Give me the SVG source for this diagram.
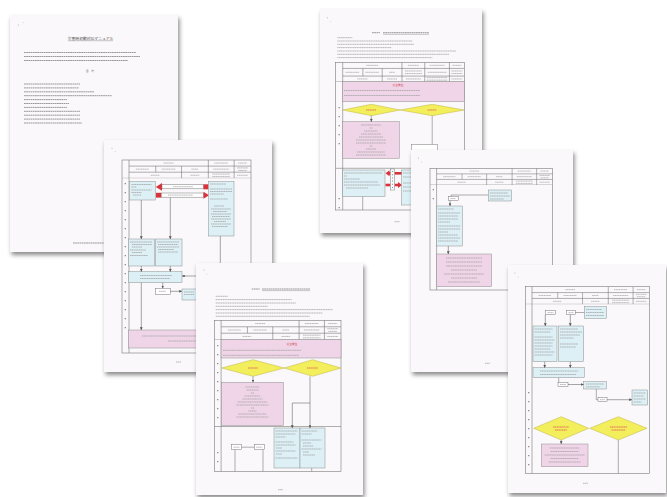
<svg xmlns="http://www.w3.org/2000/svg" width="667" height="497" viewBox="0 0 667 497">
<style>
.pg{fill:#faf8fa;filter:url(#sh)}
.ln{fill:none;stroke:#707070;stroke-width:0.55}
.ar{fill:none;stroke:#606060;stroke-width:0.55;marker-end:url(#ah)}
.tb{fill:none;stroke:#a2a2a2;stroke-width:0.75;stroke-dasharray:1.4 0.35}
.t1{fill:none;stroke:#8f8f8f;stroke-width:0.9;stroke-dasharray:1.8 0.4}
.hb{fill:none;stroke:#a5a5a5;stroke-width:0.75;stroke-dasharray:1.4 0.35}
.rt{fill:none;stroke:#e0565a;stroke-width:0.8;stroke-dasharray:1.4 0.35}
.mk{fill:none;stroke:#8a8a8a;stroke-width:1.3;stroke-dasharray:1.2 7.8}
.pk{fill:#f0d5e8;stroke:#8e8e8e;stroke-width:0.5}
.bl{fill:#ddf0f6;stroke:#8e8e8e;stroke-width:0.5}
.yw{fill:#f3ee5c;stroke:#bdb444;stroke-width:0.5}
.sb{fill:#ffffff;stroke:#777;stroke-width:0.5}
.rd{fill:#d8323c}
.sp{fill:#a8a8a8}
.jp{font-family:"Noto Sans CJK JP","Noto Sans",sans-serif}
</style>
<defs>
<filter id="sh" x="-6%" y="-6%" width="116%" height="116%">
<feDropShadow dx="1.5" dy="3" stdDeviation="2" flood-color="#000" flood-opacity="0.45"/>
</filter>
<marker id="ah" viewBox="0 0 10 10" refX="10" refY="5" markerWidth="5" markerHeight="5" orient="auto">
<path d="M0 0L10 5L0 10z" fill="#555"/>
</marker>
<symbol id="hA" viewBox="0 0 130 18" preserveAspectRatio="none">
<path class="ln" d="M7 6H130M7 12H130M0 18H130M87 0V18M113 0V18M34 6V12M60 6V18"/>
<path class="hb" d="M42 3h10M93 3h14M117 3h9M14 9h13M40 9h14M70 9h7M92 9h16M116 7.8h11M117 10.3h9M29 15h9M69 15h9M91 13.8h18M91 16.3h18M116 15h11"/>
</symbol>
<symbol id="hB" viewBox="0 0 130 19" preserveAspectRatio="none">
<path class="ln" d="M7 6H130M7 13.5H130M0 19H130M67 0V19M90 0V19M115 0V19M27.5 6V13.5M47 6V19"/>
<path class="hb" d="M31 3h12M73 3h11M95 3h15M118 3h9M10 9.8h14M30 9.8h14M54 9.8h6M70 8.5h17M70 11h17M93 9.8h19M117 8.5h11M117 11h11M22 16.3h10M52 16.3h10M71 16.3h15M92 15h21M92 17.5h21M117 16.3h11"/>
</symbol>
</defs>
<rect width="667" height="497" fill="#ffffff"/>

<!-- Page 1: cover -->
<g id="page1">
<rect class="pg" x="10" y="15" width="168" height="237"/>
<circle class="sp" cx="18.3" cy="25" r="0.5"/><circle class="sp" cx="23.3" cy="22.7" r="0.4"/>
<text class="jp" x="90.5" y="39.5" font-size="3.8" fill="#555" text-anchor="middle">災害時初動対応マニュアル</text>
<path d="M68 40.7h45" stroke="#777" stroke-width="0.4"/>
<path class="t1" d="M24 52.5h112M24 56.5h116M24 60.5h104"/>
<text class="jp" x="90" y="72.3" font-size="2.6" fill="#555" text-anchor="middle">目　次</text>
<path class="t1" d="M24 84h56M24 87.9h55M24 91.8h70M24 95.7h88M24 99.6h43M24 103.5h45M24 107.4h43M24 111.3h56M24 115.2h56M24 119.1h56M24 123h58M73 243h31"/>
</g>

<!-- Page 2 -->
<g id="page2">
<rect class="pg" x="104" y="140" width="168" height="232"/>
<circle class="sp" cx="112" cy="148.3" r="0.5"/><circle class="sp" cx="115.3" cy="151.7" r="0.4"/>
<rect class="ln" x="122" y="160" width="129" height="193"/>
<use href="#hA" x="122" y="160" width="129" height="18.3"/>
<path class="ln" d="M129 160V353"/>
<path class="mk" d="M125.3 183V330"/>
<rect class="bl" x="129.7" y="181.7" width="25.6" height="18.3"/>
<path class="tb" d="M131.5 184.5h20M131.5 187h5M131.5 190h20M131.5 192.5h10M133 195h8"/>
<polygon class="rd" points="155.8,186.9 162,183 162,190.8"/>
<rect class="sb" x="162" y="184.6" width="41.5" height="4.2"/>
<path class="tb" d="M173 186.7h20"/>
<rect class="rd" x="203.5" y="184.3" width="5" height="5"/>
<rect class="rd" x="156" y="192.8" width="5.3" height="4.8"/>
<rect class="sb" x="161.3" y="193" width="42.2" height="4.2"/>
<path class="tb" d="M168 195.1h25"/>
<polygon class="rd" points="203.5,191.7 209,195.2 203.5,198.7"/>
<rect class="bl" x="208.5" y="181.7" width="25.5" height="54.3"/>
<path class="tb" d="M210 184h16M210 189h22M210 191.5h22M210 194h14M210 199h18M214 206h10M211 209h20M213 211.5h14M211 214h20M212 216.5h18M211 219h20M214 221.5h12M211 224h20M212 226.5h16"/>
<rect class="bl" x="128.7" y="239" width="25.6" height="27"/>
<path class="tb" d="M130 242h22M132 244.5h20M132 247h10M130 250h16M132 252.5h10M130 255.5h18"/>
<rect class="bl" x="155.3" y="239" width="26.7" height="27"/>
<path class="tb" d="M157 242h22M158 244.5h20M157 247h22M158 249.5h16M158 252h20"/>
<rect class="bl" x="128.7" y="271.7" width="53.3" height="11"/>
<path class="tb" d="M140 275.5h32M140 278.5h30"/>
<rect class="sb" x="155.3" y="288.3" width="15" height="6"/>
<path class="tb" d="M159 291.3h7"/>
<rect class="bl" x="182" y="289" width="20" height="11"/>
<path class="tb" d="M184 292h10M184 294.5h10"/>
<rect class="pk" x="128.7" y="330" width="122.3" height="18"/>
<path class="tb" d="M142 336h58M168 341h40"/>
<path class="tb" d="M176 362h5"/>
<g id="page2-connectors">
<path class="ar" d="M141.3 200V239"/>
<path class="ar" d="M170.3 197.6V239"/>
<path class="ar" d="M141.3 266V271.7"/>
<path class="ar" d="M170.3 266V271.7"/>
<path class="ar" d="M220.3 236V330"/>
<path class="ar" d="M220.3 276H182"/>
<path class="ar" d="M141.3 282.7V330"/>
<path class="ar" d="M162.7 282.7V288.3"/>
<path class="ar" d="M170.3 291.3H182"/>
</g>
</g>

<!-- Page 4 -->
<g id="page4">
<rect class="pg" x="196" y="263" width="167" height="232"/>
<circle class="sp" cx="204" cy="270" r="0.5"/><circle class="sp" cx="207" cy="274" r="0.4"/>
<path class="t1" d="M251.7 289h8M262 289h48"/>
<path d="M262 290.6h48" stroke="#777" stroke-width="0.4"/>
<path class="tb" d="M215.7 296.3h12M215.7 299.6h76M215.7 303h80M215.7 306.3h52M215.7 309.6h117M215.7 313h107M215.7 316.3h94"/>
<rect class="ln" x="214.3" y="320.3" width="126.7" height="151"/>
<use href="#hA" x="214.3" y="320.3" width="126.7" height="19.4"/>
<path class="ln" d="M221.1 320.3V471.3M214.3 426.5H341"/>
<path class="mk" d="M217.7 345V425M217.7 452V470"/>
<rect class="pk" x="221.1" y="339.7" width="119.9" height="18.3"/>
<text class="jp" x="292" y="345.2" font-size="2.8" fill="#d0303a" text-anchor="middle">災害発生</text>
<path class="tb" d="M223 350.3h78M223 355.3h76"/>
<polygon class="yw" points="221.7,368 253,359.7 284.3,368 253,376.3"/>
<polygon class="yw" points="284.3,368 312.7,359.7 341,368 312.7,376.3"/>
<path class="rt" d="M248 368h10M307 368h11"/>
<rect class="pk" x="221.7" y="382.3" width="61.6" height="43.2"/>
<path class="tb" d="M245.5 387h14M246.5 390h12M251 393h3M244.5 396h16M242.5 399h20M237.5 402h30M236.5 405h32M251 408h3M248.5 411h8M238.5 414h28M236.5 417h32"/>
<rect class="bl" x="274" y="428" width="26" height="40"/>
<path class="tb" d="M275.5 431h22M275.5 434h20M275.5 437h10M275.5 442h18M275.5 445h20M276 448h6M275.5 451h20M276 454h6M275.5 458h22"/>
<rect class="bl" x="300" y="428" width="25" height="40"/>
<path class="tb" d="M301.5 431h16M301.5 434h10M301.5 440h20M303 443h8M303 446h10M301.5 449h20M303 452h6M303 455h12"/>
<rect class="sb" x="231.7" y="444.7" width="10" height="5"/>
<rect class="sb" x="254.3" y="444.7" width="10" height="5"/>
<path class="tb" d="M233.5 447.2h6M256.3 447.2h6"/>
<path class="tb" d="M278 489.7h5"/>
<g id="page4-connectors">
<path class="ar" d="M253 376.3V382.3"/>
<path class="ar" d="M310 376.3V428"/>
<path class="ar" d="M310 403H292.3V428"/>
<path class="ln" d="M241.7 447.2H254.3M235 449.7V471.3M263 449.7V471.3M311.7 468V471.3"/>
</g>
</g>

<!-- Page 3 -->
<g id="page3">
<rect class="pg" x="320" y="9" width="162" height="224"/>
<circle class="sp" cx="327.3" cy="17.7" r="0.5"/><circle class="sp" cx="330.7" cy="21.7" r="0.4"/>
<path class="t1" d="M372 32.7h8M383 32.7h46"/>
<path d="M383 34.3h46" stroke="#777" stroke-width="0.4"/>
<path class="tb" d="M337.3 37.7h15M337.3 41h75M337.3 44.3h77M337.3 47.6h54M337.3 51h119M337.3 54.3h112M337.3 57.6h95"/>
<rect class="ln" x="335.7" y="62.3" width="128.6" height="147.7"/>
<use href="#hB" x="335.7" y="62.3" width="128.6" height="19.4"/>
<path class="ln" d="M342.7 62.3V210M335.7 168.3H464.3"/>
<path class="mk" d="M339.2 107V150M339.2 198V210"/>
<rect class="pk" x="342.7" y="81.7" width="121.6" height="20"/>
<text class="jp" x="398" y="86.3" font-size="2.8" fill="#d0303a" text-anchor="middle">災害発生</text>
<path class="tb" d="M344 90.5h76M344 95.5h76"/>
<polygon class="yw" points="342.7,110 371.3,104.3 400,110 371.3,115.7"/>
<polygon class="yw" points="400,110 432.2,104.3 464.3,110 432.2,115.7"/>
<path class="rt" d="M366 110h10M427.5 110h9"/>
<rect class="pk" x="342.7" y="121.7" width="56.6" height="36.6"/>
<path class="tb" d="M361 125h20M369.5 128h3M364 131h14M361 134h20M359 137h24M356 140h30M356 143h30M369.5 146h3M366 149h10M357 152h28M356 155h30"/>
<rect class="sb" x="411.7" y="144.3" width="25.6" height="10"/>
<rect class="bl" x="342.7" y="170" width="42.3" height="26.7"/>
<path class="tb" d="M344 173h38M344 176h3M344 179h16M344 182h34M344 185h36M346 188h22"/>
<polygon class="rd" points="385.5,173.3 389.5,170.3 389.5,171.9 390.5,171.9 390.5,174.7 389.5,174.7 389.5,176.3"/>
<rect class="rd" x="394.5" y="172" width="7.5" height="2.6"/>
<rect class="rd" x="385.5" y="183.7" width="5" height="2.6"/>
<polygon class="rd" points="394.5,183.7 398,183.7 398,182 402,185 398,188 398,186.3 394.5,186.3"/>
<rect class="sb" x="390.5" y="169" width="4" height="21"/>
<path class="mk" d="M392.5 171V189" style="stroke-width:1.2;stroke-dasharray:1 2.2"/>
<rect class="bl" x="401.7" y="170" width="12" height="35"/>
<path class="tb" d="M403 173h9M403 177h9M403 183h9M403 187h9M403 191h9"/>
<path class="tb" d="M394.5 221.7h5"/>
<g id="page3-connectors">
<path class="ar" d="M371.3 115.7V121.7"/>
<path class="ln" d="M432.2 115.7V144.3M362.7 196.7V210"/>
</g>
</g>

<!-- Page 5 -->
<g id="page5">
<rect class="pg" x="411" y="150" width="162" height="222"/>
<circle class="sp" cx="418.5" cy="158" r="0.5"/><circle class="sp" cx="421.5" cy="162" r="0.4"/>
<rect class="ln" x="430" y="168.3" width="122.7" height="121.7"/>
<use href="#hA" x="430" y="168.3" width="122.7" height="16.7"/>
<path class="ln" d="M436.6 168.3V290"/>
<path class="mk" d="M433.3 189V200"/>
<rect class="bl" x="488.3" y="190" width="23.4" height="11"/>
<path class="tb" d="M490 193h18M490 196h20M490 199h14"/>
<rect class="sb" x="448.3" y="196.5" width="10" height="4.2"/>
<path class="tb" d="M450.5 198.6h5"/>
<rect class="bl" x="436.6" y="206" width="25.7" height="40"/>
<path class="tb" d="M438 209h16M438 213h22M438 216h20M438 219h20M438 222h12M438 226h22M438 229h22M438 232h10M438 235h20M438 238h22M438 241h20"/>
<rect class="pk" x="436.6" y="254" width="55.1" height="32.7"/>
<path class="tb" d="M446 258h36M446 262h36M446 266h36M451 270h26M444 274h40M451 278h26M448 282h32"/>
<path class="tb" d="M485 363.3h5"/>
<g id="page5-connectors">
<path class="ln" d="M488.3 195H451V196.5"/>
<path class="ar" d="M450 200.7V206"/>
<path class="ar" d="M448.3 246V254"/>
</g>
</g>

<!-- Page 6 -->
<g id="page6">
<rect class="pg" x="508" y="265" width="158" height="228"/>
<circle class="sp" cx="515" cy="273" r="0.5"/><circle class="sp" cx="518" cy="277" r="0.4"/>
<rect class="ln" x="525.3" y="286.7" width="124" height="186.6"/>
<use href="#hA" x="525.3" y="286.7" width="124" height="17.6"/>
<path class="ln" d="M532 286.7V473.3"/>
<path class="mk" d="M528.7 392V472"/>
<rect class="sb" x="545.3" y="310.7" width="10" height="4"/>
<rect class="sb" x="566.3" y="310.7" width="9" height="4"/>
<path class="tb" d="M547.5 312.7h6M568.5 312.7h5"/>
<rect class="bl" x="584.3" y="306.7" width="22" height="11.6"/>
<path class="tb" d="M586 309.5h16M586 312.5h18M586 315.5h18"/>
<rect class="bl" x="533" y="326" width="24" height="35.7"/>
<path class="tb" d="M534.5 329h18M534.5 332h16M534.5 337h18M534.5 340h20M534.5 343h18M534.5 346h18M534.5 349h16M534.5 352h20M534.5 355h18"/>
<rect class="bl" x="558.7" y="326" width="25" height="35.7"/>
<path class="tb" d="M560 329h18M560 332h22M560 335h20M560 338h14M560 344h18M560 347h16"/>
<rect class="bl" x="533" y="367.7" width="51.3" height="10"/>
<path class="tb" d="M540 371h38M540 374.5h36"/>
<rect class="sb" x="558" y="382.3" width="10" height="4.4"/>
<path class="tb" d="M560 384.5h6"/>
<rect class="bl" x="583.7" y="381.7" width="22.6" height="7.3"/>
<path class="tb" d="M586 384h18M586 386.8h14"/>
<rect class="sb" x="598" y="397.7" width="9" height="4"/>
<path class="tb" d="M600 399.7h5"/>
<rect class="bl" x="632" y="390" width="15.7" height="15"/>
<path class="tb" d="M633.5 393h12M633.5 396h10M633.5 399h12M633.5 402h8"/>
<polygon class="yw" points="533.7,428.3 561.2,416.7 588.7,428.3 561.2,440"/>
<polygon class="yw" points="589.7,428.3 618.3,416.7 647,428.3 618.3,440"/>
<path class="rt" d="M553 427h16M555 430h12M610 427h17M611.5 430h14"/>
<rect class="pk" x="541.3" y="444" width="46.7" height="22.7"/>
<path class="tb" d="M549.7 448h30M550.7 451.5h28M544.7 455h40M550.7 458.5h28M548.7 462h32"/>
<path class="tb" d="M583 483.3h5"/>
<g id="page6-connectors">
<path class="ln" d="M584.3 312.5H575.3"/>
<path class="ar" d="M545.3 314.7V326"/>
<path class="ar" d="M570.3 314.7V326"/>
<path class="ar" d="M544.7 361.7V367.7"/>
<path class="ar" d="M570.3 361.7V367.7"/>
<path class="ln" d="M558.7 377.7V382.3"/>
<path class="ar" d="M568 384.5H583.7"/>
<path class="ln" d="M596.3 389V399.7H598"/>
<path class="ar" d="M607 399.7H632"/>
<path class="ar" d="M561.2 440V444"/>
<path class="ln" d="M618.3 440V473.3"/>
</g>
</g>
</svg>
